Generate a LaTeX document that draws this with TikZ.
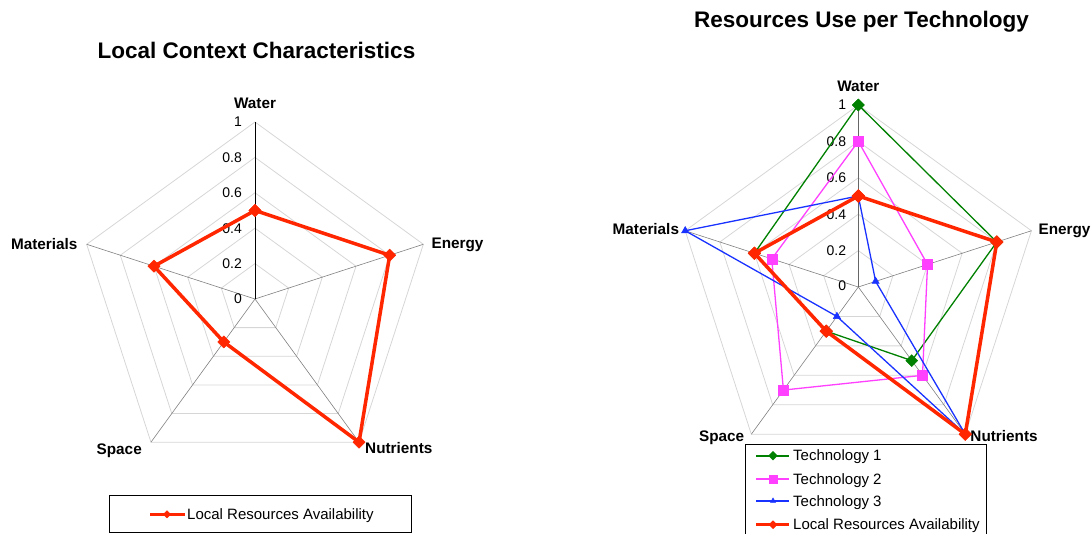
\documentclass[tikz,border=0pt]{standalone}
\usepackage{fontspec}
\setmainfont{Liberation Sans}
\usetikzlibrary{plotmarks}

\definecolor{resred}{RGB}{255,38,0}
\definecolor{techgreen}{RGB}{0,128,0}
\definecolor{techpink}{RGB}{255,64,255}
\definecolor{techblue}{RGB}{25,50,255}

\begin{document}
\begin{tikzpicture}[x=1pt, y=1pt,
    gridline/.style={draw=black!16, line width=0.8pt},
    spoke/.style={draw=black!50, line width=0.6pt},
    valaxis/.style={draw=black, line width=1pt},
    charttitle/.style={font=\fontsize{22.5}{26}\selectfont\bfseries, inner sep=0pt},
    axlabel/.style={font=\fontsize{15.3}{18}\selectfont\bfseries, inner sep=0pt, text height=11pt, text depth=0pt},
    ticklabel/.style={font=\fontsize{14}{16}\selectfont, inner sep=0pt, anchor=east, text height=10pt, text depth=0pt},
    legtext/.style={font=\fontsize{15}{18}\selectfont, inner sep=0pt, anchor=west, text height=10.5pt, text depth=0pt},
    legendbox/.style={draw=black, line width=1pt},
    localres/.style={draw=resred, line width=3.5pt, line join=round,
        mark=square*, mark options={rotate=45, fill=resred, draw=resred, line width=0.5pt}},
    techone/.style={draw=techgreen, line width=1.3pt,
        mark=square*, mark options={rotate=45, fill=techgreen, draw=techgreen, line width=0.5pt}},
    techtwo/.style={draw=techpink, line width=1.3pt,
        mark=square*, mark options={fill=techpink, draw=techpink, line width=0.5pt}},
    techthree/.style={draw=techblue, line width=1.3pt,
        mark=triangle*, mark options={fill=techblue, draw=techblue, line width=0.5pt}}]

\useasboundingbox (0,0) rectangle (1091,534);

% left chart: local context
\node[charttitle] (ltitle) at (256.5,484) {Local Context Characteristics};

\begin{scope}[shift={(255,235)}, x=177pt, y=177pt]

    % these are the grid pentagons
    \draw[gridline] (90:0.2) -- (18:0.2) -- (-54:0.2) -- (-126:0.2) -- (162:0.2) -- cycle;
    \draw[gridline] (90:0.4) -- (18:0.4) -- (-54:0.4) -- (-126:0.4) -- (162:0.4) -- cycle;
    \draw[gridline] (90:0.6) -- (18:0.6) -- (-54:0.6) -- (-126:0.6) -- (162:0.6) -- cycle;
    \draw[gridline] (90:0.8) -- (18:0.8) -- (-54:0.8) -- (-126:0.8) -- (162:0.8) -- cycle;
    \draw[gridline] (90:1) -- (18:1) -- (-54:1) -- (-126:1) -- (162:1) -- cycle;

    % these are the axes
    \coordinate (lc) at (0,0);
    \coordinate (lw) at (90:1);
    \coordinate (le) at (18:1);
    \coordinate (ln) at (-54:1);
    \coordinate (ls) at (-126:1);
    \coordinate (lm) at (162:1);

    \draw[spoke] (lc) -- (le);
    \draw[spoke] (lc) -- (ln);
    \draw[spoke] (lc) -- (ls);
    \draw[spoke] (lc) -- (lm);
    \draw[valaxis] (lc) -- (lw);

    \node[ticklabel, xshift=-13pt] (lt0) at (90:0) {0};
    \node[ticklabel, xshift=-13pt] (lt2) at (90:0.2) {0.2};
    \node[ticklabel, xshift=-13pt] (lt4) at (90:0.4) {0.4};
    \node[ticklabel, xshift=-13pt] (lt6) at (90:0.6) {0.6};
    \node[ticklabel, xshift=-13pt] (lt8) at (90:0.8) {0.8};
    \node[ticklabel, xshift=-13pt] (lt10) at (90:1) {1};

    \node[axlabel, anchor=south, yshift=13.5pt] (lwlab) at (lw) {Water};
    \node[axlabel, anchor=west, xshift=8pt, yshift=1pt] (lelab) at (le) {Energy};
    \node[axlabel, anchor=west, xshift=6pt, yshift=-6pt] (lnlab) at (ln) {Nutrients};
    \node[axlabel, anchor=east, xshift=-9pt, yshift=-7pt] (lslab) at (ls) {Space};
    \node[axlabel, anchor=east, xshift=-9pt] (lmlab) at (lm) {Materials};

    % local resources
    \draw[localres, mark size=4.3pt] plot coordinates {(90:0.5) (18:0.8) (-54:1) (-126:0.3) (162:0.6) (90:0.5)};

\end{scope}

% left legend
\draw[legendbox] (109,1) rectangle (411,38);
\draw[localres, line width=3pt, mark size=2.6pt, mark indices={2}] plot coordinates {(150,19.7) (167,19.7) (185,19.7)};
\node[legtext] (lleg) at (187,19.7) {Local Resources Availability};

% right chart: technologies
\node[charttitle] (rtitle) at (861.5,512) {Resources Use per Technology};

\begin{scope}[shift={(858.3,247)}, x=182pt, y=182pt]

    % these are the grid pentagons
    \draw[gridline] (90:0.2) -- (18:0.2) -- (-54:0.2) -- (-126:0.2) -- (162:0.2) -- cycle;
    \draw[gridline] (90:0.4) -- (18:0.4) -- (-54:0.4) -- (-126:0.4) -- (162:0.4) -- cycle;
    \draw[gridline] (90:0.6) -- (18:0.6) -- (-54:0.6) -- (-126:0.6) -- (162:0.6) -- cycle;
    \draw[gridline] (90:0.8) -- (18:0.8) -- (-54:0.8) -- (-126:0.8) -- (162:0.8) -- cycle;
    \draw[gridline] (90:1) -- (18:1) -- (-54:1) -- (-126:1) -- (162:1) -- cycle;

    % these are the axes
    \coordinate (rc) at (0,0);
    \coordinate (rw) at (90:1);
    \coordinate (re) at (18:1);
    \coordinate (rn) at (-54:1);
    \coordinate (rs) at (-126:1);
    \coordinate (rm) at (162:1);

    \draw[spoke] (rc) -- (re);
    \draw[spoke] (rc) -- (rn);
    \draw[spoke] (rc) -- (rs);
    \draw[spoke] (rc) -- (rm);
    \draw[valaxis, draw=black!60, line width=1.5pt] (rc) -- (rw);

    \node[ticklabel, xshift=-12pt, yshift=1.5pt] (rt0) at (90:0) {0};
    \node[ticklabel, xshift=-12pt] (rt2) at (90:0.2) {0.2};
    \node[ticklabel, xshift=-12pt] (rt4) at (90:0.4) {0.4};
    \node[ticklabel, xshift=-12pt] (rt6) at (90:0.6) {0.6};
    \node[ticklabel, xshift=-12pt] (rt8) at (90:0.8) {0.8};
    \node[ticklabel, xshift=-12pt] (rt10) at (90:1) {1};

    \node[axlabel, anchor=south, yshift=13.5pt] (rwlab) at (rw) {Water};
    \node[axlabel, anchor=west, xshift=7pt, yshift=2pt] (relab) at (re) {Energy};
    \node[axlabel, anchor=west, xshift=5pt, yshift=-2pt] (rnlab) at (rn) {Nutrients};
    \node[axlabel, anchor=east, xshift=-7pt, yshift=-2pt] (rslab) at (rs) {Space};
    \node[axlabel, anchor=east, xshift=-6pt, yshift=2pt] (rmlab) at (rm) {Materials};

    % technologies and local resources
    \draw[techone, mark size=4.2pt] plot coordinates {(90:1) (18:0.8) (-54:0.5) (-126:0.3) (162:0.6) (90:1)};
    \draw[techtwo, mark size=5pt] plot coordinates {(90:0.8) (18:0.4) (-54:0.6) (-126:0.7) (162:0.5) (90:0.8)};
    \draw[techthree, mark size=4.2pt] plot coordinates {(90:0.5) (18:0.1) (-54:1) (-126:0.2) (162:1) (90:0.5)};
    \draw[localres, mark size=4.5pt] plot coordinates {(90:0.5) (18:0.8) (-54:1) (-126:0.3) (162:0.6) (90:0.5)};

\end{scope}

% right legend
\draw[legendbox] (745.7,0) -- (745.7,89.7) -- (986.7,89.7) -- (986.7,0);
\draw[techone, line width=1.7pt, mark size=3pt, mark indices={2}] plot coordinates {(756,78.3) (773,78.3) (789,78.3)};
\draw[techtwo, line width=1.7pt, mark size=3.8pt, mark indices={2}] plot coordinates {(756,54.7) (773,54.7) (789,54.7)};
\draw[techthree, line width=1.7pt, mark size=3pt, mark indices={2}] plot coordinates {(756,33) (773,33) (789,33)};
\draw[localres, line width=3pt, mark size=2.8pt, mark indices={2}] plot coordinates {(756,9.3) (773,9.3) (789,9.3)};
\node[legtext] (rleg1) at (793,78.3) {Technology 1};
\node[legtext] (rleg2) at (793,54.7) {Technology 2};
\node[legtext] (rleg3) at (793,33) {Technology 3};
\node[legtext] (rleg4) at (793,9.3) {Local Resources Availability};

\end{tikzpicture}
\end{document}
